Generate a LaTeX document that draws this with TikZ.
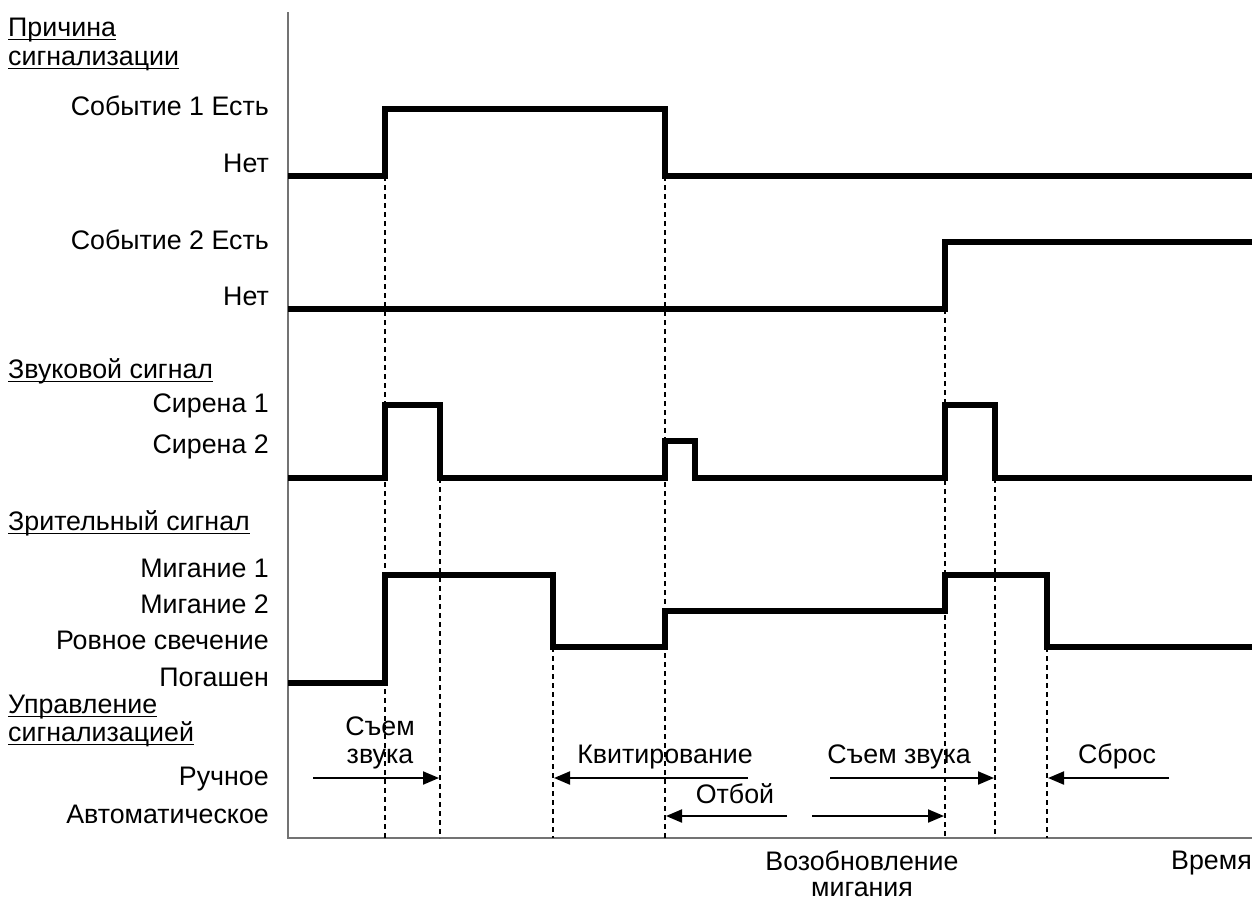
\documentclass[tikz,border=0pt]{standalone}
\usepackage{fontspec}
\setmainfont{Liberation Sans}
\usetikzlibrary{arrows.meta}

\newcommand{\chartfont}{\fontsize{26.8}{31}\selectfont}

\begin{document}
\begin{tikzpicture}[x=1pt,y=-1pt,
  lbl/.style={anchor=base east, inner sep=0pt, font=\chartfont},
  hdr/.style={anchor=base west, inner sep=0pt, font=\chartfont},
  txt/.style={anchor=base, inner sep=0pt, font=\chartfont},
  sig/.style={line width=5.5pt, line join=miter, line cap=butt},
  guide/.style={line width=1.8pt, dash pattern=on 5pt off 4pt},
  axisline/.style={line width=1.5pt, draw=black!55},
  evarrow/.style={line width=2pt, -{Triangle[length=16pt,width=13pt]}},
  uline/.style={line width=1.5pt}]
\useasboundingbox (0,0) rectangle (1257,902);

% axes
\coordinate (origin) at (288,838);
\coordinate (ytop) at (288,12);
\coordinate (xend) at (1252,838);
\draw[axisline] (ytop) -- (origin) -- (xend);

% vertical guides at the switching instants
\draw[guide] (385,176) -- (385,838);
\draw[guide] (440,478) -- (440,838);
\draw[guide] (553,647) -- (553,838);
\draw[guide] (665,176) -- (665,838);
\draw[guide] (945,309) -- (945,838);
\draw[guide] (995,478) -- (995,838);
\draw[guide] (1047,647) -- (1047,838);

% event 1
\draw[sig] (288,176) -- (385,176) -- (385,109) -- (665,109) -- (665,176) -- (1252,176);
% event 2
\draw[sig] (288,309) -- (945,309) -- (945,242) -- (1252,242);
% audible signal
\draw[sig] (288,478) -- (385,478) -- (385,405) -- (440,405) -- (440,478)
  -- (665,478) -- (665,441) -- (695,441) -- (695,478)
  -- (945,478) -- (945,405) -- (995,405) -- (995,478) -- (1252,478);
% visual signal
\draw[sig] (288,683) -- (385,683) -- (385,575) -- (553,575) -- (553,647)
  -- (665,647) -- (665,611) -- (945,611) -- (945,575) -- (1047,575)
  -- (1047,647) -- (1252,647);

% section headers
\node[hdr] (h1a) at (8,36) {Причина};
\node[hdr] (h1b) at (8,65) {сигнализации};
\node[hdr] (h2) at (8,378) {Звуковой сигнал};
\node[hdr] (h3) at (8,530) {Зрительный сигнал};
\node[hdr] (h4a) at (8,713) {Управление};
\node[hdr] (h4b) at (8,741) {сигнализацией};
\foreach \h in {h1a,h1b,h2,h3,h4a,h4b}
  \draw[uline] ([yshift=-3.5pt]\h.base west) -- ([yshift=-3.5pt]\h.base east);

% level labels
\node[lbl] (l1) at (269,115) {Событие 1 Есть};
\node[lbl] (l2) at (269,172) {Нет};
\node[lbl] (l3) at (269,249) {Событие 2 Есть};
\node[lbl] (l4) at (269,305) {Нет};
\node[lbl] (l5) at (269,412) {Сирена 1};
\node[lbl] (l6) at (269,453) {Сирена 2};
\node[lbl] (l7) at (269,577) {Мигание 1};
\node[lbl] (l8) at (269,613) {Мигание 2};
\node[lbl] (l9) at (269,649) {Ровное свечение};
\node[lbl] (l10) at (269,686) {Погашен};
\node[lbl] (l11) at (269,785) {Ручное};
\node[lbl] (l12) at (269,823) {Автоматическое};

% operator / automatic actions
\node[txt] (silence1a) at (380,735) {Съем};
\node[txt] (silence1b) at (380,763) {звука};
\node[txt] (ack) at (665,763) {Квитирование};
\node[txt] (clear) at (735,803) {Отбой};
\node[txt] (silence2) at (899,763) {Съем звука};
\node[txt] (reset) at (1117,763) {Сброс};

\coordinate (s1a) at (313,778);  \coordinate (s1b) at (439,778);
\coordinate (k1a) at (748,778);  \coordinate (k1b) at (554,778);
\coordinate (o1a) at (787,816);  \coordinate (o1b) at (666,816);
\coordinate (r1a) at (812,816);  \coordinate (r1b) at (944,816);
\coordinate (s2a) at (830,778);  \coordinate (s2b) at (994,778);
\coordinate (c1a) at (1169,778); \coordinate (c1b) at (1048,778);
\draw[evarrow] (s1a) -- (s1b);
\draw[evarrow] (k1a) -- (k1b);
\draw[evarrow] (o1a) -- (o1b);
\draw[evarrow] (r1a) -- (r1b);
\draw[evarrow] (s2a) -- (s2b);
\draw[evarrow] (c1a) -- (c1b);

% bottom captions
\node[txt] (resume1) at (862,870) {Возобновление};
\node[txt] (resume2) at (862,896) {мигания};
\node[anchor=base east, inner sep=0pt, font=\chartfont] (time) at (1252,869) {Время};
\end{tikzpicture}
\end{document}
